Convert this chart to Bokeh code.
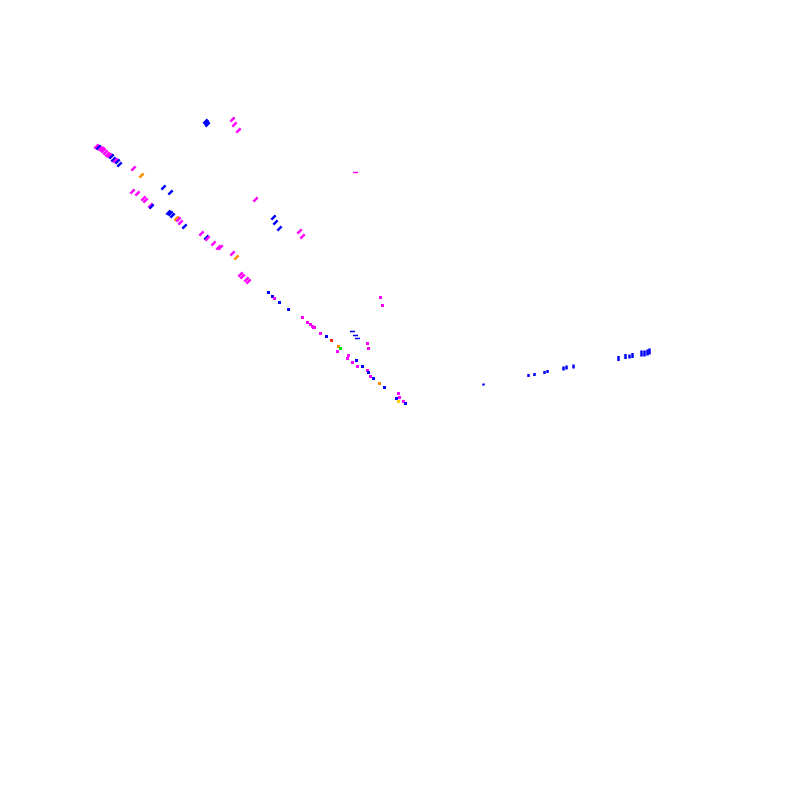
from bokeh.plotting import figure
from bokeh.models import Range1d, ColumnDataSource
from bokeh.embed import file_html
from bokeh.resources import INLINE
import math

COLORS = {"b": "#0000ff", "m": "#ff00ff", "o": "#ff8c00", "g": "#00e000",
          "y": "#ffd000", "r": "#ff3000"}

# slanted strokes (upper-left part of the diagonal)
stroke_x = [205, 207, 206, 232, 234, 238,
            96, 98, 100, 102, 103, 105, 107, 109, 111, 113, 115, 117, 119,
            133, 141, 132, 137, 143, 145, 150, 151, 163, 170,
            168, 170, 172, 176, 178, 180, 184,
            201, 206, 207, 213, 218, 255, 273, 275, 279, 299, 302,
            220, 232, 236, 240, 242, 246, 248]
stroke_y = [121, 124, 122, 119, 124, 130,
            146, 147, 148, 149, 150, 152, 154, 155, 156, 159, 160, 161, 164,
            168, 175, 191, 193, 198, 200, 205, 206, 187, 192,
            212, 213, 215, 218, 219, 222, 226,
            233, 237, 238, 243, 247, 199, 217, 222, 228, 231, 236,
            247, 253, 257, 274, 276, 279, 281]
stroke_c = ["b", "b", "b", "m", "m", "m",
            "m", "b", "m", "m", "m", "m", "m", "m", "b", "b", "m", "b", "b",
            "m", "o", "m", "m", "m", "m", "m", "b", "b", "b",
            "b", "b", "b", "o", "m", "m", "b",
            "m", "b", "m", "m", "m", "m", "b", "b", "b", "m", "m",
            "m", "m", "o", "m", "m", "m", "m"]

# small dots (lower part of the diagonal)
dot_x = [268, 272, 274, 279, 288, 302, 307, 310, 313, 320, 326, 331, 338, 340, 337,
         348, 347, 356, 352, 357, 362, 367, 368, 370, 373, 379, 384,
         398, 399, 396, 398, 403, 405, 367, 368, 380, 382, 312, 314]
dot_y = [292, 296, 298, 302, 309, 317, 322, 324, 327, 333, 336, 340, 346, 348, 351,
         355, 358, 360, 362, 366, 366, 370, 372, 376, 378, 383, 387,
         393, 397, 398, 401, 401, 403, 343, 348, 297, 305, 326, 327]
dot_c = ["b", "b", "m", "b", "b", "m", "m", "m", "m", "m", "b", "r", "o", "g", "m",
         "m", "m", "b", "m", "m", "b", "m", "b", "m", "b", "o", "b",
         "m", "m", "b", "y", "m", "b", "m", "m", "m", "m", "m", "m"]

# short horizontal dashes
hdash_x = [352, 355, 357, 355]
hdash_y = [331, 335, 338, 172]
hdash_c = ["b", "b", "b", "m"]

# vertical bars (right-hand group)
bar_x = [483, 528, 534, 544, 547, 563, 566, 573, 618, 625, 629, 632, 641, 644, 647, 649]
bar_y = [384, 375, 374, 372, 371, 368, 367, 366, 358, 356, 356, 355, 353, 353, 352, 351]
bar_h = [2, 3, 3, 3, 3, 4, 4, 4, 5, 5, 4, 5, 6, 6, 6, 6]

p = figure(width=784, height=784, output_backend="svg", toolbar_location=None,
           x_range=Range1d(0, 784), y_range=Range1d(784, 0), min_border=0)
p.axis.visible = False
p.grid.visible = False
p.outline_line_color = None
p.background_fill_color = "white"
p.border_fill_color = "white"

s1 = ColumnDataSource(dict(x=stroke_x, y=stroke_y, c=[COLORS[k] for k in stroke_c]))
p.scatter("x", "y", source=s1, marker="dash", size=6, angle=math.pi / 4,
          line_color="c", line_width=2.5)

s2 = ColumnDataSource(dict(x=dot_x, y=dot_y, c=[COLORS[k] for k in dot_c]))
p.scatter("x", "y", source=s2, marker="square", size=3, fill_color="c", line_color=None)

s3 = ColumnDataSource(dict(x=hdash_x, y=hdash_y, c=[COLORS[k] for k in hdash_c]))
p.scatter("x", "y", source=s3, marker="dash", size=5, line_color="c", line_width=1.5)

s4 = ColumnDataSource(dict(x=bar_x, y=bar_y, h=bar_h))
p.rect("x", "y", width=2.5, height="h", source=s4, fill_color="#0000ff", line_color=None)

open("out.html", "w").write(file_html(p, INLINE))
